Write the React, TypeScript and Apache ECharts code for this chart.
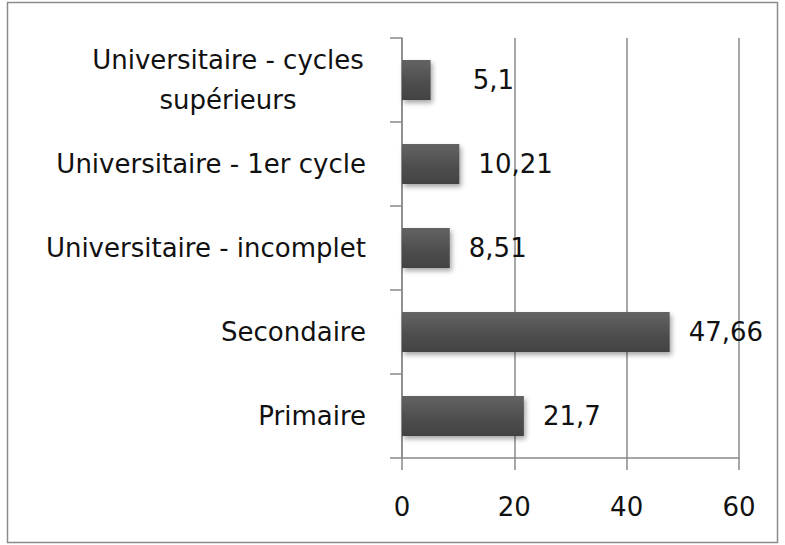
import React, { useEffect, useRef } from "react";
import * as echarts from "echarts";

const categories = [
  "Primaire",
  "Secondaire",
  "Universitaire - incomplet",
  "Universitaire - 1er cycle",
  "Universitaire - cycles\nsupérieurs",
];
const values = [21.7, 47.66, 8.51, 10.21, 5.1];
const xTicks = { min: 0, max: 60, interval: 20 };

export default function App() {
  const ref = useRef<HTMLDivElement>(null);
  useEffect(() => {
    if (!ref.current) return;
    const chart = echarts.init(ref.current, null, { renderer: "svg" });
    const font = "DejaVu Sans";
    const seriesData = values.map((v, i) =>
      i === values.length - 1 ? { value: v, label: { distance: 42 } } : v
    );
    chart.setOption({
      animation: false,
      backgroundColor: "#ffffff",
      graphic: [
        {
          type: "rect",
          shape: { x: 7.5, y: 2.5, width: 770, height: 540 },
          style: { fill: "none", stroke: "#8c8c8c", lineWidth: 1.5 },
          silent: true,
        },
      ],
      grid: { left: 402, right: 46, top: 38, bottom: 87, containLabel: false },
      xAxis: {
        type: "value",
        min: xTicks.min,
        max: xTicks.max,
        interval: xTicks.interval,
        axisLine: { show: true, lineStyle: { color: "#8a8a8a", width: 1.5 } },
        axisTick: { show: true, length: 12, lineStyle: { color: "#8a8a8a", width: 1.5 } },
        splitLine: { show: true, lineStyle: { color: "#8a8a8a", width: 1.5 } },
        axisLabel: {
          margin: 36,
          fontFamily: font,
          fontSize: 26,
          color: "#111111",
        },
      },
      yAxis: {
        type: "category",
        data: categories,
        axisLine: { show: true, lineStyle: { color: "#8a8a8a", width: 1.5 } },
        axisTick: { show: true, length: 12, lineStyle: { color: "#8a8a8a", width: 1.5 } },
        splitLine: { show: false },
        axisLabel: {
          margin: 36,
          fontFamily: font,
          fontSize: 26,
          color: "#111111",
          lineHeight: 40,
          formatter: (v: string) =>
            v.indexOf("\n") >= 0
              ? v
                  .split("\n")
                  .map((l) => `{c|${l}}`)
                  .join("\n")
              : v,
          rich: {
            c: {
              width: 276,
              align: "center",
              fontFamily: font,
              fontSize: 26,
              lineHeight: 40,
              color: "#111111",
            },
          },
        },
      },
      series: [
        {
          type: "bar",
          data: seriesData,
          barWidth: 40,
          itemStyle: {
            color: new echarts.graphic.LinearGradient(0, 0, 0, 1, [
              { offset: 0, color: "#636363" },
              { offset: 0.5, color: "#505050" },
              { offset: 1, color: "#424242" },
            ]),
            shadowColor: "rgba(0,0,0,0.35)",
            shadowBlur: 5,
            shadowOffsetX: 2,
            shadowOffsetY: 3,
          },
          label: {
            show: true,
            position: "right",
            distance: 19,
            fontFamily: font,
            fontSize: 26,
            color: "#111111",
            formatter: (p: any) => String(p.value).replace(".", ","),
          },
        },
      ],
    });
    return () => chart.dispose();
  }, []);
  return (
    <div
      ref={ref}
      style={{ position: "fixed", left: 0, top: 0, width: 785, height: 545 }}
    />
  );
}
